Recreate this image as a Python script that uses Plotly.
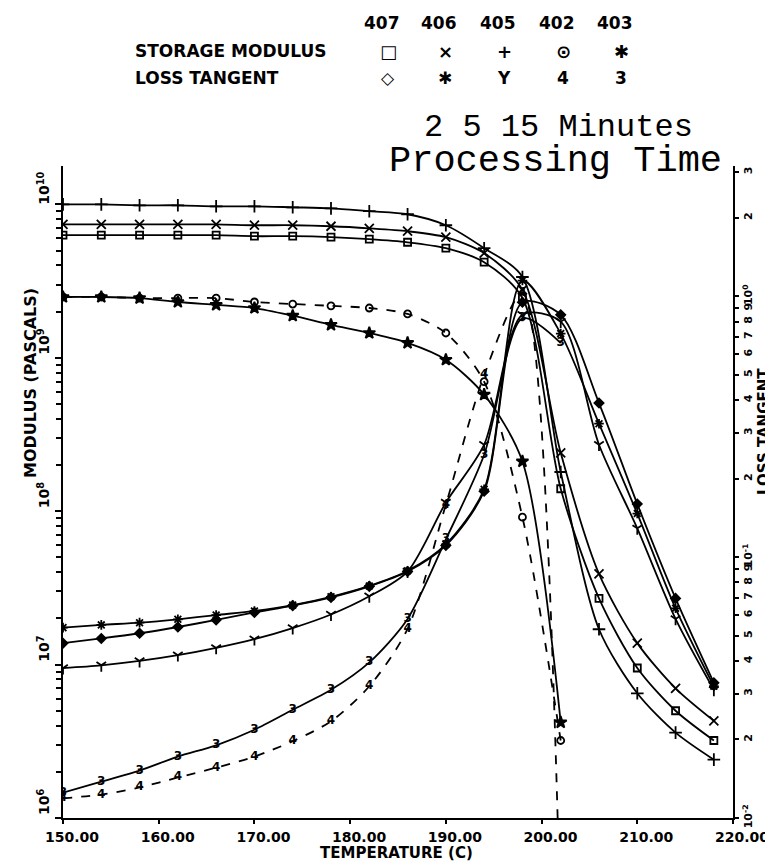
import plotly.graph_objects as go

# temperature grid (C), one reading every 4 degrees
temps = [150, 154, 158, 162, 166, 170, 174, 178, 182, 186, 190, 194, 198, 202, 206, 210, 214, 218]

# storage modulus (Pa)
g_407 = [6.30e9, 6.30e9, 6.30e9, 6.30e9, 6.30e9, 6.20e9, 6.20e9, 6.11e9, 5.93e9, 5.66e9, 5.18e9, 4.20e9,
         2.45e9, 1.40e8, 2.70e7, 9.50e6, 5.00e6, 3.20e6]
g_406 = [7.41e9, 7.41e9, 7.41e9, 7.41e9, 7.41e9, 7.31e9, 7.31e9, 7.20e9, 6.98e9, 6.68e9, 6.11e9, 4.81e9,
         2.77e9, 2.40e8, 3.90e7, 1.38e7, 7.00e6, 4.30e6]
g_405 = [1.00e10, 1.00e10, 9.86e9, 9.86e9, 9.71e9, 9.71e9, 9.57e9, 9.42e9, 9.02e9, 8.62e9, 7.31e9, 5.18e9,
         3.36e9, 1.80e8, 1.70e7, 6.50e6, 3.60e6, 2.40e6]
g_402 = [2.49e9, 2.49e9, 2.45e9, 2.45e9, 2.45e9, 2.31e9, 2.24e9, 2.18e9, 2.11e9, 1.93e9, 1.45e9, 6.98e8,
         9.14e7, 3.20e6]
g_403 = [2.49e9, 2.49e9, 2.45e9, 2.31e9, 2.21e9, 2.11e9, 1.88e9, 1.64e9, 1.45e9, 1.25e9, 9.70e8, 5.75e8,
         2.11e8, 4.20e6]

# loss tangent
tan_407 = [0.0468, 0.0488, 0.0511, 0.0540, 0.0575, 0.0614, 0.0652, 0.0701, 0.0773, 0.0881, 0.111, 0.179,
           0.95, 0.85, 0.39, 0.16, 0.0695, 0.033]
tan_406 = [0.0537, 0.0550, 0.0561, 0.0578, 0.0600, 0.0622, 0.0655, 0.0705, 0.0776, 0.0887, 0.112, 0.182,
           1.15, 0.72, 0.325, 0.147, 0.0637, 0.032]
tan_405 = [0.0376, 0.0385, 0.0400, 0.0421, 0.0449, 0.0485, 0.0535, 0.0603, 0.0708, 0.0881, 0.162, 0.270,
           0.85, 0.80, 0.27, 0.129, 0.058, 0.031]
tan_402 = [0.0119, 0.0123, 0.0131, 0.0143, 0.0156, 0.0172, 0.0197, 0.0235, 0.0320, 0.0531, 0.159, 0.499,
           1.03, 0.0036]
tan_403 = [0.0125, 0.0138, 0.0152, 0.0172, 0.0190, 0.0218, 0.0260, 0.0310, 0.0395, 0.0580, 0.117, 0.247,
           0.824, 0.662]

samples = ["407", "406", "405", "402", "403"]
storage_syms = ["\u25a1", "\u00d7", "+", "\u2299", "\u2731"]
loss_syms = ["\u25c7", "\u2731", "Y", "4", "3"]

W, H = 773, 863
ML, MR, MT, MB = 55, 48, 158, 53
PW, PH = W - ML - MR, H - MT - MB


def px(x):
    return (x - ML) / PW


def py(y):
    return (H - MB - y) / PH


FONT = "DejaVu Sans"
INK = "black"

fig = go.Figure()


def curve(x, y, symbol=None, dash="solid", axis="y", text=None, msize=8):
    mode = "lines+markers"
    kw = {}
    if text is not None:
        mode = "lines+text"
        # label only the points that fall inside the axis range
        kw = dict(text=[text if v >= 0.01 else "" for v in y], textposition="middle center",
                  textfont=dict(family=FONT, size=12, color=INK, weight="bold"))
    fig.add_trace(go.Scatter(
        x=x, y=y, yaxis=axis, mode=mode, cliponaxis=True,
        line=dict(color=INK, width=1.8, dash=dash, shape="spline", smoothing=0.8),
        marker=dict(symbol=symbol, size=msize, color=INK, line=dict(color=INK, width=1.8)),
        showlegend=False, hoverinfo="skip", **kw
    ))


# storage modulus, left axis
curve(temps, g_405, "cross-thin-open", msize=9)
curve(temps, g_406, "x-thin-open", msize=9)
curve(temps, g_407, "square-open", msize=7)
curve(temps[:len(g_402)], g_402, "circle-open", dash="dash", msize=7)
curve(temps[:len(g_403)], g_403, "star", msize=9)

# loss tangent, right axis
curve(temps, tan_406, "asterisk-open", axis="y2", msize=8)
curve(temps, tan_407, "diamond", axis="y2", msize=7)
curve(temps, tan_405, "y-down-open", axis="y2", msize=8)
curve(temps[:len(tan_402)], tan_402, dash="dash", axis="y2", text="4")
curve(temps[:len(tan_403)], tan_403, axis="y2", text="3")

tickfont = dict(family=FONT, size=14, color=INK, weight="bold")

left_major = [10 ** e for e in range(6, 11)]
left_minor = [m * 10 ** e for e in range(6, 11) for m in range(2, 10)]
right_vals = [m * 10.0 ** e for e in range(-2, 1) for m in range(1, 10)]
right_text = ["10<sup>%d</sup>" % e if m == 1 else str(m) for e in range(-2, 1) for m in range(1, 10)]

fig.update_layout(
    width=W, height=H,
    margin=dict(l=ML, r=MR, t=MT, b=MB, autoexpand=False),
    paper_bgcolor="white", plot_bgcolor="white",
    font=dict(family=FONT, color=INK),
    xaxis=dict(
        range=[150, 220], tickvals=[150, 160, 170, 180, 190, 200, 210, 220], tickformat=".2f",
        showline=True, linecolor=INK, linewidth=2, showgrid=False, zeroline=False,
        ticks="outside", ticklen=4, tickwidth=2, tickcolor=INK, tickfont=tickfont,
        ticklabelshift=9, ticklabelstandoff=1,
    ),
    yaxis=dict(
        type="log", range=[6, 10.25], tickmode="array", tickvals=left_major,
        ticktext=["10<sup>%d</sup>" % e for e in range(6, 11)], tickangle=-90,
        showline=True, linecolor=INK, linewidth=2, showgrid=False, zeroline=False,
        ticks="outside", ticklen=6, tickwidth=2, tickcolor=INK, tickfont=tickfont,
        ticklabelshift=-14,
        minor=dict(tickmode="array", tickvals=left_minor, ticks="outside", ticklen=5,
                   tickwidth=1.5, tickcolor=INK, showgrid=False),
    ),
    yaxis2=dict(
        type="log", range=[-2, 0.5], overlaying="y", side="right", anchor="x",
        tickmode="array", tickvals=right_vals, ticktext=right_text, tickangle=-90,
        showline=True, linecolor=INK, linewidth=2, showgrid=False, zeroline=False,
        ticks="outside", ticklen=4, tickwidth=2, tickcolor=INK, ticklabelstandoff=0,
        tickfont=dict(family=FONT, size=11, color=INK, weight="bold"),
    ),
)

ann = []


def label(text, x, y, size=16, family=FONT, weight="bold", angle=0, xanchor="center"):
    ann.append(dict(text=text, x=px(x), y=py(y), xref="paper", yref="paper", showarrow=False,
                    xanchor=xanchor, yanchor="middle", textangle=angle,
                    font=dict(family=family, size=size, color=INK, weight=weight)))


cols = [374, 431, 490, 549, 607]
for c, name, s1, s2 in zip(cols, samples, storage_syms, loss_syms):
    label(name, c, 15, size=17)
    label(s1, c + 6, 43, size=18)
    label(s2, c + 6, 70, size=17)
label("STORAGE MODULUS", 125, 43, size=17, xanchor="left")
label("LOSS TANGENT", 125, 70, size=17, xanchor="left")

label("2 5 15 Minutes", 550, 120, size=32, family="Liberation Mono", weight="normal")
label("Processing Time", 547, 153, size=37, family="Liberation Mono", weight="normal")

label("MODULUS (PASCALS)", 22, 375, size=16, angle=-90)
label("LOSS TANGENT", 756, 424, size=15, angle=-90)
label("TEMPERATURE (C)", 388, 845, size=15)

fig.update_layout(annotations=ann)
fig.write_html("out.html")
